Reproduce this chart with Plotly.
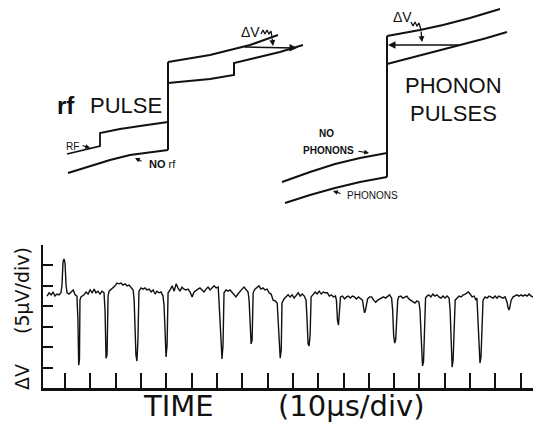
import plotly.graph_objects as go

# ---------------- bottom trace: time (µs) and ΔV (µV) ----------------
TIME_US = [2.9, 3.7, 4.5, 5.3, 6.0, 6.8, 7.6, 8.4, 8.8, 9.2, 9.6, 10.0, 10.4, 10.8, 11.6, 12.4, 13.2, 14.0, 14.7,
           15.1, 15.4, 15.7, 15.9, 16.3, 17.5, 18.3, 19.1, 19.9, 20.7, 21.5, 22.2, 23.0, 23.8, 24.6, 25.4,
           25.8, 26.2, 26.6, 27.0, 27.4, 28.2, 29.0, 29.8, 30.5, 31.3, 32.1, 32.9, 33.7, 34.5, 35.3, 36.1, 36.9,
           37.3, 38.0, 38.4, 38.8, 39.2, 40.0, 40.8, 41.6, 42.4, 43.2, 44.0, 44.8, 45.6, 46.3, 47.1, 47.9, 48.7,
           49.1, 49.5, 49.9, 50.3, 50.7, 51.5, 52.3, 53.1, 53.9, 54.6, 55.4, 56.2, 57.0, 57.8, 58.6, 59.4, 60.2,
           61.0, 61.8, 62.5, 63.3, 64.1, 64.9, 65.7, 66.5, 67.3, 68.1, 68.9, 69.7, 70.5,
           70.8, 71.6, 72.0, 72.4, 72.8, 73.6, 74.4, 75.2, 76.0, 76.8, 77.5, 78.3, 79.1, 79.9, 80.7, 81.5, 82.3,
           82.7, 83.1, 83.5, 83.9, 84.3, 85.0, 85.8, 86.6, 87.4, 88.2, 89.0, 89.8, 90.6, 91.4, 92.2, 93.0, 93.8,
           94.2, 94.6, 95.0, 95.4, 95.7, 96.5, 97.3, 98.1, 98.9, 99.7, 100.5, 101.3, 102.1, 102.9, 103.7, 104.5,
           105.2, 105.6, 106.0, 106.4, 106.8, 107.2, 108.0, 108.8, 109.6, 110.4, 111.2, 112.0, 112.8, 113.6,
           114.4, 115.2, 116.0, 116.8, 117.2, 117.6, 118.0, 118.4, 118.8, 119.6, 120.4, 121.2, 121.9, 122.7,
           123.5, 124.3, 125.1, 125.9, 126.7, 127.5, 127.9, 128.3, 128.7, 129.1, 129.5, 130.3, 131.1, 131.9,
           132.7, 133.5, 134.3, 135.1, 135.8, 136.6, 137.4, 138.2, 139.0, 139.4, 139.8, 140.2, 140.6, 141.0,
           141.4, 141.8, 142.6, 143.4, 144.2, 145.0, 145.8, 146.6, 147.4, 148.2, 149.0, 149.8, 150.2, 150.8,
           151.2, 151.6, 152.0, 152.4, 153.0, 153.7, 154.5, 155.3, 156.1, 156.9, 157.7, 158.5, 159.3, 160.1,
           160.9, 161.7, 162.1, 162.5, 162.9, 163.3, 163.7, 164.1, 164.9, 165.7, 166.5, 167.3, 168.1, 168.9,
           169.3, 170.0, 170.8, 171.6, 172.3, 172.7, 173.1, 173.5, 173.9, 174.3, 174.7, 175.1,
           175.9, 176.7, 177.5, 178.3, 179.1, 179.9, 180.6, 181.4, 182.2, 183.0, 183.8, 184.6, 185.0, 185.4,
           185.8, 186.2, 187.0, 187.7, 188.5, 189.3, 190.1, 190.9, 191.7, 192.5, 193.3, 194.1, 194.9, 195.3,
           195.6, 196.0, 196.4, 196.8, 197.6]
DELTA_V_UV = [22.5, 23.3, 22.8, 23.5, 22.5, 23.0, 22.8, 23.3, 25.2, 30.8, 31.6, 30.6, 25.2, 23.3, 23.0, 23.5, 24.0, 22.8, 22.5,
              16.6, 5.6, 6.9, 21.5, 22.3, 22.8, 23.5, 23.0, 24.0, 23.3, 24.2, 23.3, 23.7, 23.0, 23.7, 23.3,
              19.1, 7.3, 8.1, 22.5, 23.7, 24.2, 24.5, 25.0, 25.7, 25.5, 25.7, 25.2, 25.5, 25.0, 25.2, 24.5, 24.0,
              21.5, 8.1, 6.6, 11.8, 23.7, 24.5, 24.2, 24.5, 24.0, 24.2, 23.5, 24.0, 23.0, 23.7, 23.3, 23.5, 22.5,
              20.3, 14.2, 7.6, 10.5, 23.3, 24.0, 25.0, 23.7, 25.5, 24.5, 23.7, 24.7, 24.2, 24.0, 24.2, 23.5, 22.3,
              23.5, 24.0, 24.2, 24.5, 24.0, 23.5, 24.2, 24.7, 24.0, 24.5, 25.0, 24.5, 24.7,
              21.5, 9.3, 7.1, 10.5, 23.3, 24.0, 23.7, 24.0, 23.5, 23.0, 22.3, 23.0, 23.7, 24.2, 24.7, 24.0, 23.5,
              21.5, 14.2, 10.8, 11.8, 23.3, 24.2, 24.7, 25.0, 24.2, 24.5, 24.0, 24.2, 23.3, 23.0, 21.5, 21.3, 20.8,
              16.6, 9.3, 7.3, 9.3, 20.8, 21.8, 22.3, 22.8, 22.3, 22.8, 22.0, 22.8, 23.3, 22.5, 23.0, 22.5,
              21.5, 16.6, 10.8, 10.3, 12.9, 22.3, 23.0, 23.5, 23.0, 23.7, 23.0, 23.5, 23.3, 23.3,
              22.5, 22.8, 22.3, 22.5, 21.5, 16.6, 15.4, 20.3, 22.3, 22.5, 21.8, 22.3, 22.5, 22.0,
              22.5, 22.3, 21.8, 22.3, 21.8, 21.5, 19.8, 18.4, 19.1, 20.6, 21.8, 22.3, 22.3, 21.5,
              21.0, 21.5, 21.8, 22.0, 22.3, 22.0, 22.5, 22.8, 22.0, 19.1, 13.0, 11.0, 11.8, 16.6,
              21.5, 22.3, 22.5, 22.0, 22.3, 22.5, 21.8, 21.5, 21.0, 20.8, 21.3, 21.0, 19.1, 9.3,
              5.4, 6.4, 16.6, 22.0, 22.5, 22.8, 22.3, 23.0, 22.5, 22.8, 22.3, 22.0, 22.5, 22.0,
              22.5, 22.0, 19.1, 9.3, 5.1, 6.9, 16.6, 21.5, 22.0, 22.5, 22.3, 22.8, 23.0, 23.3,
              23.5, 23.0, 22.3, 22.5, 21.5, 22.0, 16.6, 8.1, 6.1, 7.6, 16.6, 21.5,
              22.3, 22.0, 22.5, 22.3, 22.0, 22.5, 22.0, 22.5, 22.3, 22.0, 22.3, 21.0, 19.6, 19.1,
              20.1, 21.5, 22.3, 22.5, 22.8, 22.5, 22.8, 22.5, 22.8, 22.5, 23.0, 22.5, 22.3, 21.5,
              16.6, 10.5, 6.9, 5.6, 6.1]

TIME_TICKS_US = [10 * k for k in range(1, 20)]   # 10 µs/div
DV_TICKS_UV = [5 * k for k in range(1, 8)]        # 5 µV/div

# ---------------- schematic sketches (sketch units) ----------------
RF_NO_X = [68, 90, 110, 130, 150, 168]
RF_NO_Y = [173, 166, 160, 155, 152, 150]
RF_ON_X = [67, 85, 100, 100, 120, 140, 160, 168]
RF_ON_Y = [154, 150, 146, 133, 129, 126, 123, 122]
RF_JUMP_X = [168, 168]
RF_JUMP_Y = [150, 62]
RF_TOP_X = [168, 190, 210, 230, 250, 278]
RF_TOP_Y = [62, 58, 55, 50, 45, 35]
RF_LOW_X = [168, 190, 210, 234, 234, 255, 280, 303]
RF_LOW_Y = [83, 81, 79, 75, 63, 58, 52, 45]
RF_SQUIG_X = [261, 263, 265, 267, 269, 271, 272]
RF_SQUIG_Y = [34, 30, 34, 30, 34, 31, 37]

PH_NO_X = [282, 310, 335, 360, 387]
PH_NO_Y = [182, 172, 164, 158, 153]
PH_ON_X = [285, 310, 335, 360, 387]
PH_ON_Y = [203, 195, 188, 182, 177]
PH_JUMP_X = [387, 387]
PH_JUMP_Y = [177, 36]
PH_TOP_X = [387, 420, 443, 470, 500]
PH_TOP_Y = [36, 30, 25, 18, 9]
PH_LOW_X = [387, 420, 460, 485, 507]
PH_LOW_Y = [64, 55.5, 45, 38.5, 32]
PH_SQUIG_X = [411, 413, 415, 417, 419, 421]
PH_SQUIG_Y = [22, 26, 22, 26, 23, 30]

INK = "#111111"

fig = go.Figure()

fig.add_trace(go.Scatter(x=TIME_US, y=DELTA_V_UV, mode="lines",
                         line=dict(color=INK, width=1.4), xaxis="x", yaxis="y", hoverinfo="skip"))

for xs, ys, w in [(RF_NO_X, RF_NO_Y, 2.2), (RF_ON_X, RF_ON_Y, 1.8), (RF_JUMP_X, RF_JUMP_Y, 2),
                  (RF_TOP_X, RF_TOP_Y, 2), (RF_LOW_X, RF_LOW_Y, 2), (RF_SQUIG_X, RF_SQUIG_Y, 1.3),
                  (PH_NO_X, PH_NO_Y, 2), (PH_ON_X, PH_ON_Y, 2), (PH_JUMP_X, PH_JUMP_Y, 2),
                  (PH_TOP_X, PH_TOP_Y, 2), (PH_LOW_X, PH_LOW_Y, 2), (PH_SQUIG_X, PH_SQUIG_Y, 1.3)]:
    fig.add_trace(go.Scatter(x=xs, y=ys, mode="lines", line=dict(color=INK, width=w),
                             xaxis="x2", yaxis="y2", hoverinfo="skip"))

FONT = "Liberation Sans"
ann = []


def txt(x, y, s, size, weight="normal", family=FONT):
    ann.append(dict(x=x, y=y, xref="x2", yref="y2", text=s, showarrow=False,
                    font=dict(family=family, size=size, color=INK, weight=weight),
                    xanchor="center", yanchor="middle"))


def arrow(x0, y0, x1, y1, width=1.4, size=1.0):
    ann.append(dict(x=x1, y=y1, ax=x0, ay=y0, xref="x2", yref="y2", axref="x2", ayref="y2",
                    text="", showarrow=True, arrowhead=2, arrowsize=size, arrowwidth=width,
                    arrowcolor=INK))


txt(66, 105, "rf", 24, "bold")
txt(126, 105, "PULSE", 22)
txt(72, 146, "RF", 10)
arrow(81, 145, 90, 148, 1.2, 0.8)
txt(162, 164, "<b>NO</b> rf", 11)
arrow(143, 162, 135, 158, 1.2, 0.8)
txt(250, 32, "ΔV", 14)
arrow(272, 37, 273, 46, 1.3, 0.9)
arrow(243, 47, 297, 48, 1.5, 1.0)

txt(453, 85, "PHONON", 22)
txt(453, 113, "PULSES", 22)
txt(326, 133, "NO", 10, "bold")
txt(328, 150, "PHONONS", 10, "bold")
arrow(357, 151, 369, 153, 1.2, 0.8)
txt(372, 195, "PHONONS", 10)
arrow(342, 194, 333, 191, 1.2, 0.8)
txt(402, 17, "ΔV", 14)
arrow(421, 30, 422, 42, 1.3, 0.9)
arrow(460, 45, 388, 45, 1.5, 1.0)

# The page body adds an 8px margin; the figure is sized so the page matches the reference.
OFF = 8.0
W = 541.0 - OFF          # figure width
H = 388.0 - OFF          # plot-area height (page y 8 .. 388)


def px(page_x):
    return (page_x - OFF) / W


def py(page_y):
    return (388.0 - page_y) / H


ann.append(dict(x=px(178), y=py(406), xref="paper", yref="paper", text="TIME", showarrow=False,
                font=dict(family="DejaVu Sans", size=29, color=INK), xanchor="center", yanchor="middle"))
ann.append(dict(x=px(351), y=py(406), xref="paper", yref="paper", text="(10µs/div)", showarrow=False,
                font=dict(family="DejaVu Sans", size=29, color=INK), xanchor="center", yanchor="middle"))
ann.append(dict(x=px(22), y=py(377), xref="paper", yref="paper", text="ΔV", showarrow=False,
                textangle=-90, font=dict(family="DejaVu Sans", size=19, color=INK),
                xanchor="center", yanchor="middle"))
ann.append(dict(x=px(22), y=py(291), xref="paper", yref="paper", text="(5µV/div)", showarrow=False,
                textangle=-90, font=dict(family="DejaVu Sans", size=19, color=INK),
                xanchor="center", yanchor="middle"))

fig.update_layout(
    width=int(W), height=int(436 - OFF),
    margin=dict(l=0, r=0, t=0, b=48, pad=0),
    paper_bgcolor="white", plot_bgcolor="white",
    showlegend=False,
    xaxis=dict(domain=[px(43), 1], range=[1.3, 198.0], tickvals=TIME_TICKS_US, ticks="inside",
               ticklen=15, tickwidth=1.5, tickcolor=INK, showticklabels=False, showgrid=False,
               zeroline=False, showline=True, linewidth=3, linecolor=INK, anchor="y", fixedrange=True),
    yaxis=dict(domain=[0, py(245)], range=[0, 35], tickvals=DV_TICKS_UV, ticks="inside",
               ticklen=10, tickwidth=1.5, tickcolor=INK, showticklabels=False, showgrid=False,
               zeroline=False, showline=True, linewidth=2, linecolor=INK, anchor="x", fixedrange=True),
    xaxis2=dict(domain=[0, 1], range=[OFF, 541.0], visible=False, anchor="y2", fixedrange=True),
    yaxis2=dict(domain=[py(215), 1], range=[215, OFF], visible=False, anchor="x2", fixedrange=True),
    annotations=ann,
)

fig.write_html("out.html")
